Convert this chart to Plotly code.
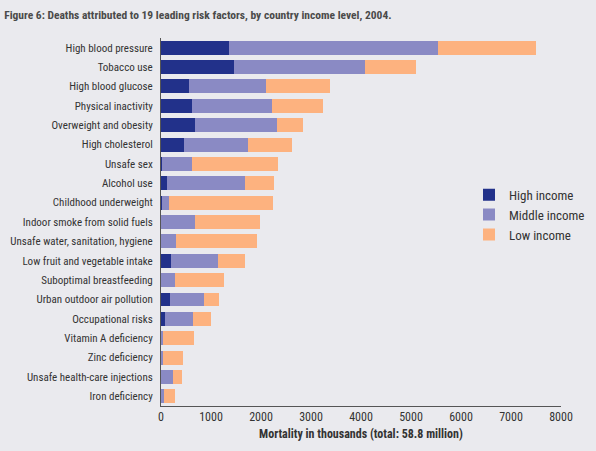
import plotly.graph_objects as go

categories = [
    "High blood pressure", "Tobacco use", "High blood glucose", "Physical inactivity",
    "Overweight and obesity", "High cholesterol", "Unsafe sex", "Alcohol use",
    "Childhood underweight", "Indoor smoke from solid fuels",
    "Unsafe water, sanitation, hygiene", "Low fruit and vegetable intake",
    "Suboptimal breastfeeding", "Urban outdoor air pollution", "Occupational risks",
    "Vitamin A deficiency", "Zinc deficiency", "Unsafe health-care injections",
    "Iron deficiency",
]
high_income = [1350, 1450, 550, 610, 670, 450, 20, 110, 10, 0, 5, 190, 0, 170, 70, 0, 0, 5, 5]
middle_income = [4180, 2620, 1540, 1600, 1640, 1280, 590, 1570, 150, 670, 290, 940, 270, 680, 560, 40, 30, 225, 50]
low_income = [1970, 1030, 1290, 1020, 520, 890, 1730, 570, 2070, 1300, 1620, 540, 980, 300, 360, 610, 400, 190, 220]
tick_vals = [0, 1000, 2000, 3000, 4000, 5000, 6000, 7000, 8000]

FONT = "Roboto Condensed, Roboto, sans-serif"
BG = "#EAEAEE"

fig = go.Figure()
for name, vals, col in [
    ("High income", high_income, "#22318A"),
    ("Middle income", middle_income, "#8A8AC4"),
    ("Low income", low_income, "#FDB27F"),
]:
    fig.add_trace(go.Bar(
        y=categories, x=vals, name=name, orientation="h", legendgroup=name,
        marker=dict(color=col, line=dict(width=0)),
    ))

fig.update_layout(
    barmode="stack",
    bargap=0.28,
    width=596, height=451,
    paper_bgcolor=BG, plot_bgcolor=BG,
    margin=dict(l=161, r=35, t=38, b=45, autoexpand=False),
    font=dict(family=FONT, size=12, color="#333333"),
    title=dict(
        text="<b>Figure 6: Deaths attributed to 19 leading risk factors, by country income level, 2004.</b>",
        x=0.007, xanchor="left", y=0.967, yanchor="middle",
        font=dict(family=FONT, size=11.5, color="#4A4A4A"),
    ),
    legend=dict(
        x=0.77, xanchor="left", y=0.615, yanchor="top",
        traceorder="normal",
        bgcolor="rgba(0,0,0,0)", font=dict(size=13, color="#333333"),
        tracegroupgap=8,
    ),
    xaxis=dict(
        range=[0, 8000], tickvals=tick_vals, showgrid=False, zeroline=False,
        showline=True, linecolor="#555555", linewidth=1,
        ticks="", ticklen=0,
        title=dict(text="<b>Mortality in thousands (total: 58.8 million)</b>",
                   font=dict(size=12, color="#333333"), standoff=6),
        tickfont=dict(size=12, color="#333333"),
    ),
    yaxis=dict(
        categoryorder="array", categoryarray=categories, autorange="reversed",
        showgrid=False, zeroline=False, showline=True, linecolor="#555555", linewidth=1,
        ticks="", ticklen=0, ticksuffix="  ",
        tickfont=dict(size=11, color="#333333"),
    ),
)

post = ("document.body.style.margin='0';"
        "document.body.style.padding='0';"
        "document.body.style.background='%s';"
        "document.documentElement.style.background='%s';") % (BG, BG)
fig.write_html("out.html", post_script=post, config={"displayModeBar": False})
